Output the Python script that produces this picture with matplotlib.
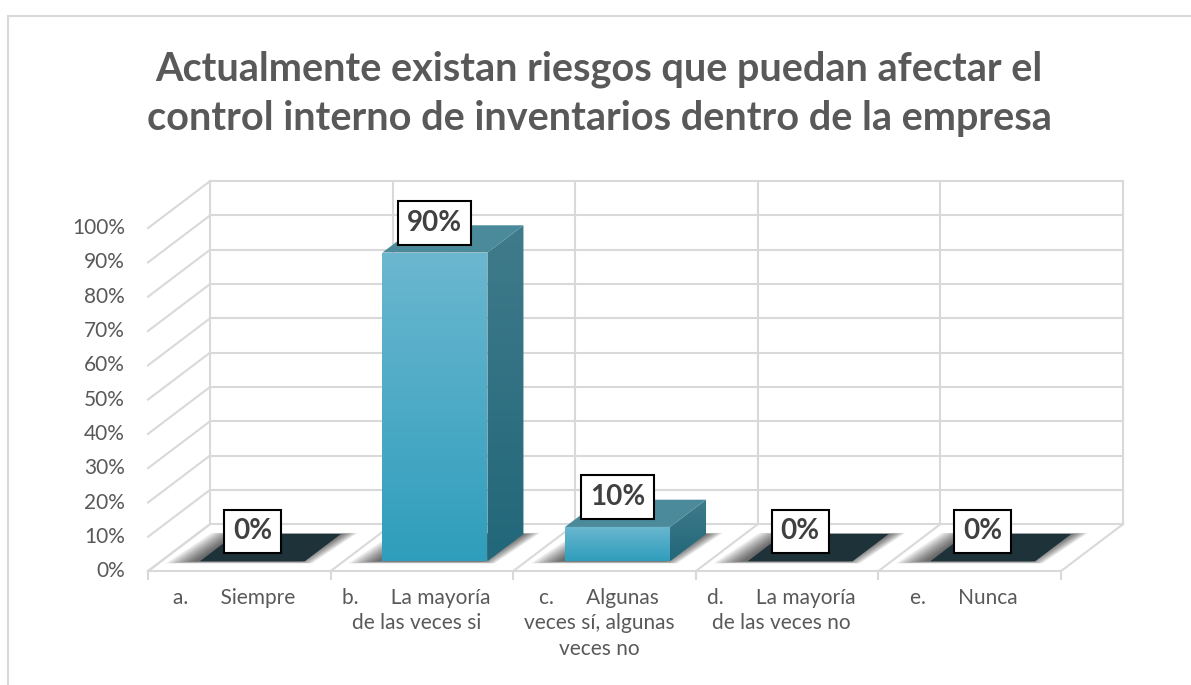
## Riesgos control interno - grafico de barras 3D (estilo Excel)

import numpy as np
import matplotlib
matplotlib.use('Agg')
import matplotlib.pyplot as plt
from matplotlib.patches import Polygon, Rectangle

# datos del grafico
categorias = ['a.      Siempre',
              'b.      La mayoría\nde las veces si',
              'c.      Algunas\nveces sí, algunas\nveces no',
              'd.      La mayoría\nde las veces no',
              'e.      Nunca']
valores = [0, 90, 10, 0, 0]
etiquetas = ['0%', '90%', '10%', '0%', '0%']
ticks_y = [0, 10, 20, 30, 40, 50, 60, 70, 80, 90, 100]
titulo = 'Actualmente existan riesgos que puedan afectar el\ncontrol interno de inventarios dentro de la empresa'

FUENTE = 'Lato'
GRIS_TXT = '#595959'
GRIS_LIN = '#D9D9D9'

# proyeccion oblicua: profundidad z (0 = frente, 1 = fondo)
DX = 0.34   # desplazamiento en x (unidades de categoria)
DY = 13.7   # desplazamiento en y (puntos porcentuales)
F0, F1 = 0.21, 0.79  # profundidad de las barras
HW = 0.2875          # media anchura de barra

def proy(x, y, z):
    return (x + z * DX, y + z * DY)

fig = plt.figure(figsize=(11.91, 6.85), dpi=100)
ax = fig.add_axes([0, 0, 1, 1])
ax.set_axis_off()
XL = (-1.3105, 5.212)
YL = (-33.2, 166.5)

n = len(valores)
x0, x1 = -0.5, n - 0.5

# pared del fondo y pared lateral
for t in ticks_y:
    a = proy(x0, t, 1); b = proy(x1, t, 1); c = proy(x0, t, 0)
    ax.plot([a[0], b[0]], [a[1], b[1]], color=GRIS_LIN, lw=1.5, zorder=1)
    ax.plot([c[0], a[0]], [c[1], a[1]], color=GRIS_LIN, lw=1.5, zorder=1)
for k in range(n + 1):
    xb = x0 + k
    a = proy(xb, 0, 1); b = proy(xb, 100, 1); c = proy(xb, 0, 0)
    ax.plot([a[0], b[0]], [a[1], b[1]], color=GRIS_LIN, lw=1.5, zorder=1)
    # divisiones del piso
    ax.plot([c[0], a[0]], [c[1], a[1]], color=GRIS_LIN, lw=1.5, zorder=1)
    # marcas del eje
    ax.plot([xb, xb], [0, -2.3], color=GRIS_LIN, lw=1.5, zorder=1)
ax.plot([x0, x1], [0, 0], color=GRIS_LIN, lw=1.5, zorder=1)

# etiquetas eje y
for t in ticks_y:
    ax.text(-0.626, t, f'{t}%', ha='right', va='center', fontsize=15,
            color=GRIS_TXT, family=FUENTE)

# etiquetas de categorias
for i, cat in enumerate(categorias):
    ax.text(i - 0.03, -4.8, cat, ha='center', va='top', fontsize=15,
            color=GRIS_TXT, family=FUENTE, linespacing=1.35)

def gradiente(poly_xy, c_arriba, c_abajo, zo):
    xs = [p[0] for p in poly_xy]; ys = [p[1] for p in poly_xy]
    c1 = np.array(matplotlib.colors.to_rgb(c_arriba))
    c2 = np.array(matplotlib.colors.to_rgb(c_abajo))
    t = np.linspace(0, 1, 64)[:, None]
    img = (c1 * (1 - t) + c2 * t)[:, None, :]
    im = ax.imshow(img, extent=[min(xs), max(xs), min(ys), max(ys)],
                   origin='upper', aspect='auto', zorder=zo, interpolation='bilinear')
    pat = Polygon(poly_xy, closed=True, fc='none', ec='none', zorder=zo)
    ax.add_patch(pat)
    im.set_clip_path(pat)

for i, v in enumerate(valores):
    # sombra difusa sobre el piso
    for s in np.linspace(0.14, 0.0, 10):
        sx, sz = s, s * 0.55
        pts = [proy(i - HW - sx - 0.03, 0, F0 - sz * 0.6),
               proy(i + HW + sx * 0.6 - 0.03, 0, F0 - sz * 0.6),
               proy(i + HW + sx * 0.6, 0, F1 + sz * 0.3),
               proy(i - HW - sx, 0, F1 + sz * 0.3)]
        ax.add_patch(Polygon(pts, closed=True, fc='#000000', ec='none',
                             alpha=0.08, zorder=2))
    if v == 0:
        tapa = [proy(i - HW, 0, F0), proy(i + HW, 0, F0),
                proy(i + HW, 0, F1), proy(i - HW, 0, F1)]
        ax.add_patch(Polygon(tapa, closed=True, fc='#1E3239', ec='none', zorder=3))
    else:
        frente = [proy(i - HW, 0, F0), proy(i + HW, 0, F0),
                  proy(i + HW, v, F0), proy(i - HW, v, F0)]
        lado = [proy(i + HW, 0, F0), proy(i + HW, 0, F1),
                proy(i + HW, v, F1), proy(i + HW, v, F0)]
        tapa = [proy(i - HW, v, F0), proy(i + HW, v, F0),
                proy(i + HW, v, F1), proy(i - HW, v, F1)]
        gradiente(frente, '#6BB7D0', '#2F9EBC', 4)
        gradiente(lado, '#3F7B8B', '#22677A', 4)
        ax.add_patch(Polygon(tapa, closed=True, fc='#4B8A9B', ec='none', zorder=4))
    # etiqueta de datos
    cx, cy = proy(i, v, F0)
    ax.text(cx, cy + 8.7, etiquetas[i], ha='center', va='center', fontsize=20,
            fontweight='bold', color='#404040', family=FUENTE, zorder=6,
            bbox=dict(boxstyle='square,pad=0.32', fc='white', ec='black', lw=1.5))

ax.set_xlim(*XL)
ax.set_ylim(*YL)

# titulo
fig.text(0.503, 0.863, titulo, ha='center', va='center', fontsize=28.5,
         fontweight='bold', color=GRIS_TXT, family=FUENTE, linespacing=1.42)

# borde del area del grafico
fig.add_artist(Rectangle((8 / 1191, -0.1), 1.2, 1 - 16 / 685 + 0.1,
                         transform=fig.transFigure, fill=False,
                         ec=GRIS_LIN, lw=1.5))

fig.savefig('out.png', dpi=100)
